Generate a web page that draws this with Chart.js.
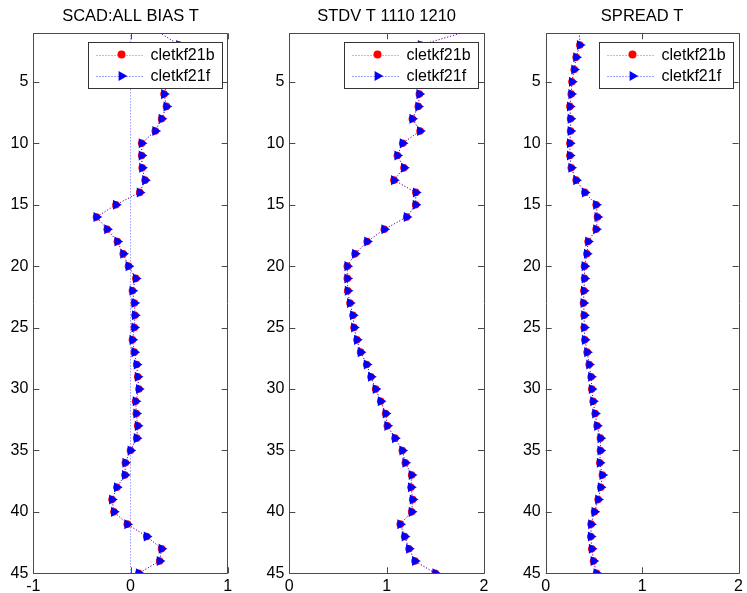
<!DOCTYPE html>
<html>
<head>
<meta charset="utf-8">
<script src="https://cdn.jsdelivr.net/npm/chart.js@4.4.1/dist/chart.umd.min.js"></script>
<style>
  html, body { margin: 0; padding: 0; background: #fff; }
  #wrap { position: relative; width: 747px; height: 593px; overflow: hidden; }
  #wrap canvas { position: absolute; top: 0; }
</style>
</head>
<body>
<div id="wrap">
  <canvas id="bias" width="249" height="593" style="left:0px"></canvas>
  <canvas id="stdv" width="250" height="593" style="left:250px"></canvas>
  <canvas id="spread" width="242" height="593" style="left:505px"></canvas>
</div>
<script>
// model levels (vertical axis, reversed)
const levels = [1, 2, 3, 4, 5, 6, 7, 8, 9, 10, 11, 12, 13, 14, 15, 16, 17, 18, 19, 20,
  21, 22, 23, 24, 25, 26, 27, 28, 29, 30, 31, 32, 33, 34, 35, 36, 37, 38, 39, 40,
  41, 42, 43, 44, 45];
const levelTicks = [5, 10, 15, 20, 25, 30, 35, 40, 45];
const seriesNames = ["cletkf21b", "cletkf21f"];

// SCAD:ALL BIAS T
const biasB = [0.30, 0.50, 0.46, 0.42, 0.38, 0.345, 0.37, 0.32, 0.255, 0.115,
  0.115, 0.12, 0.15, 0.095, -0.15, -0.35, -0.24, -0.135, -0.075, -0.02,
  0.055, 0.02, 0.04, 0.046, 0.04, 0.02, 0.04, 0.064, 0.074, 0.087,
  0.053, 0.06, 0.074, 0.064, 0.0, -0.053, -0.057, -0.14, -0.19, -0.17,
  -0.033, 0.167, 0.32, 0.30, 0.085];
const biasF = [0.30, 0.50, 0.46, 0.42, 0.38, 0.345, 0.37, 0.32, 0.255, 0.115,
  0.115, 0.12, 0.15, 0.095, -0.15, -0.35, -0.24, -0.135, -0.075, -0.02,
  0.055, 0.02, 0.04, 0.046, 0.04, 0.02, 0.04, 0.064, 0.074, 0.087,
  0.053, 0.06, 0.074, 0.064, 0.0, -0.053, -0.057, -0.14, -0.19, -0.17,
  -0.033, 0.167, 0.32, 0.30, 0.085];
const zeroLineX = [0, 0];
const zeroLineY = [0, 46];
const biasTicks = [-1, 0, 1];

// STDV T 1110 1210
const stdvB = [1.78, 1.35, 1.36, 1.36, 1.34, 1.336, 1.325, 1.264, 1.343, 1.165,
  1.11, 1.178, 1.075, 1.30, 1.298, 1.206, 0.976, 0.80, 0.675, 0.596,
  0.596, 0.60, 0.623, 0.654, 0.665, 0.695, 0.733, 0.795, 0.839, 0.887,
  0.939, 0.99, 1.007, 1.086, 1.161, 1.192, 1.257, 1.25, 1.268, 1.257,
  1.14, 1.185, 1.23, 1.291, 1.50];
const stdvF = [1.78, 1.35, 1.36, 1.36, 1.34, 1.336, 1.325, 1.264, 1.343, 1.165,
  1.11, 1.178, 1.075, 1.30, 1.298, 1.206, 0.976, 0.80, 0.675, 0.596,
  0.596, 0.60, 0.623, 0.654, 0.665, 0.695, 0.733, 0.795, 0.839, 0.887,
  0.939, 0.99, 1.007, 1.086, 1.161, 1.192, 1.257, 1.25, 1.268, 1.257,
  1.14, 1.185, 1.23, 1.291, 1.50];
const stdvTicks = [0, 1, 2];

// SPREAD T
const spreadB = [0.35, 0.354, 0.316, 0.296, 0.272, 0.265, 0.251, 0.258, 0.258, 0.251,
  0.251, 0.265, 0.316, 0.406, 0.523, 0.537, 0.523, 0.44, 0.427, 0.403,
  0.403, 0.396, 0.392, 0.399, 0.399, 0.406, 0.43, 0.451, 0.471, 0.478,
  0.492, 0.513, 0.533, 0.568, 0.568, 0.561, 0.588, 0.571, 0.544, 0.506,
  0.471, 0.468, 0.478, 0.496, 0.527];
const spreadF = [0.35, 0.354, 0.316, 0.296, 0.272, 0.265, 0.251, 0.258, 0.258, 0.251,
  0.251, 0.265, 0.316, 0.406, 0.523, 0.537, 0.523, 0.44, 0.427, 0.403,
  0.403, 0.396, 0.392, 0.399, 0.399, 0.406, 0.43, 0.451, 0.471, 0.478,
  0.492, 0.513, 0.533, 0.568, 0.568, 0.561, 0.588, 0.571, 0.544, 0.506,
  0.471, 0.468, 0.478, 0.496, 0.527];
const spreadTicks = [0, 1, 2];

const FONT = "Arial, 'Liberation Sans', Helvetica, sans-serif";
const Y_MIN = 1.05;
const Y_MAX = 45;

function toPoints(xs, ys) {
  return ys.map((y, i) => ({ x: xs[i], y }));
}

// hide markers whose level lies above the top of the axes (like matlab clipping)
function markerSize(r) {
  return (c) => (c.raw && c.raw.y < Y_MIN ? 0 : r);
}

// matlab style box with inward ticks on all four sides, title and legend
const boxPlugin = {
  id: "matlabBox",
  afterDatasetsDraw(chart, args, opts) {
    const { ctx, chartArea } = chart;
    const { left, right, top, bottom } = chartArea;
    const xs = chart.scales.x;
    const ys = chart.scales.y;
    const tl = 6;

    ctx.save();
    ctx.strokeStyle = "#4a4a4a";
    ctx.lineWidth = 1;
    ctx.beginPath();
    ctx.rect(Math.round(left) + 0.5, Math.round(top) + 0.5,
      Math.round(right - left), Math.round(bottom - top));
    xs.ticks.forEach((t) => {
      const px = Math.round(xs.getPixelForValue(t.value)) + 0.5;
      ctx.moveTo(px, bottom);
      ctx.lineTo(px, bottom - tl);
      ctx.moveTo(px, top);
      ctx.lineTo(px, top + tl);
    });
    ys.ticks.forEach((t) => {
      const py = Math.round(ys.getPixelForValue(t.value)) + 0.5;
      ctx.moveTo(left, py);
      ctx.lineTo(left + tl, py);
      ctx.moveTo(right, py);
      ctx.lineTo(right - tl, py);
    });
    ctx.stroke();

    // title centred over the axes
    ctx.fillStyle = "#000";
    ctx.font = "16.5px " + FONT;
    ctx.textAlign = "center";
    ctx.textBaseline = "middle";
    ctx.fillText(opts.title || "", (left + right) / 2, 16);

    // legend
    const entries = chart.data.datasets.filter((d) => d.label);
    const bw = 134, bh = 46;
    const bx = Math.round(right - 6 - bw) + 0.5;
    const by = Math.round(top + 9) + 0.5;
    ctx.fillStyle = "#ffffff";
    ctx.fillRect(bx, by, bw, bh);
    ctx.strokeStyle = "#333333";
    ctx.strokeRect(bx, by, bw, bh);
    ctx.font = "16px " + FONT;
    ctx.textBaseline = "middle";
    ctx.textAlign = "left";
    entries.forEach((d, i) => {
      const ry = by + 12 + i * 21.5;
      ctx.strokeStyle = d.borderColor;
      ctx.setLineDash([1, 2]);
      ctx.beginPath();
      ctx.moveTo(bx + 8, Math.round(ry) + 0.5);
      ctx.lineTo(bx + 56, Math.round(ry) + 0.5);
      ctx.stroke();
      ctx.setLineDash([]);
      const mx = bx + 33, my = ry;
      ctx.fillStyle = d.pointBackgroundColor;
      ctx.beginPath();
      if (d.pointStyle === "triangle") {
        const r = 5.8;
        ctx.moveTo(mx + r, my);
        ctx.lineTo(mx - r / 2, my - r * 0.866);
        ctx.lineTo(mx - r / 2, my + r * 0.866);
        ctx.closePath();
      } else {
        ctx.arc(mx, my, 4, 0, Math.PI * 2);
      }
      ctx.fill();
      ctx.fillStyle = "#000000";
      ctx.fillText(d.label, bx + 62, ry + 1);
    });
    ctx.restore();
  },
};

function makePanel(id, title, valsB, valsF, xTicks, yAxisWidth, rightPad, extra) {
  const seriesF = {
    label: seriesNames[1],
    data: toPoints(valsF, levels),
    borderColor: "rgba(0, 0, 255, 0.75)",
    borderWidth: 1,
    borderDash: [1, 2],
    pointStyle: "triangle",
    rotation: 90,
    pointRadius: markerSize(5.8),
    pointBackgroundColor: "#0000ff",
    pointBorderColor: "#0000ff",
    pointBorderWidth: 0,
    order: 0,
  };
  const seriesB = {
    label: seriesNames[0],
    data: toPoints(valsB, levels),
    borderColor: "rgba(255, 0, 0, 0.7)",
    borderWidth: 1,
    borderDash: [1, 2],
    pointStyle: "circle",
    pointRadius: markerSize(3.8),
    pointBackgroundColor: "#ff0000",
    pointBorderColor: "#ff0000",
    pointBorderWidth: 0,
    order: 1,
  };
  const datasets = [seriesB, seriesF];
  if (extra) datasets.push(extra);

  return new Chart(document.getElementById(id), {
    type: "scatter",
    data: { datasets },
    options: {
      responsive: false,
      animation: false,
      devicePixelRatio: 1,
      showLine: true,
      layout: { padding: { left: 0, right: rightPad, top: 33.3, bottom: 0 } },
      plugins: {
        legend: { display: false },
        tooltip: { enabled: false },
        title: { display: false },
        matlabBox: { title },
      },
      scales: {
        x: {
          type: "linear",
          min: xTicks[0],
          max: xTicks[xTicks.length - 1],
          grid: { display: false, drawTicks: false },
          border: { display: false },
          afterBuildTicks: (s) => { s.ticks = xTicks.map((v) => ({ value: v })); },
          afterFit: (s) => { s.height = 19.7; },
          ticks: { color: "#000", font: { family: FONT, size: 16 }, padding: 4, maxRotation: 0 },
        },
        y: {
          type: "linear",
          reverse: true,
          min: Y_MIN,
          max: Y_MAX,
          grid: { display: false, drawTicks: false },
          border: { display: false },
          afterBuildTicks: (s) => { s.ticks = levelTicks.map((v) => ({ value: v })); },
          afterFit: (s) => { s.width = yAxisWidth; },
          ticks: { color: "#000", font: { family: FONT, size: 16 }, padding: 5 },
        },
      },
    },
    plugins: [boxPlugin],
  });
}

const zeroLine = {
  data: toPoints(zeroLineX, zeroLineY),
  borderColor: "rgba(0, 0, 255, 0.6)",
  borderWidth: 1,
  borderDash: [1, 2],
  pointRadius: 0,
  order: 2,
};

makePanel("bias", "SCAD:ALL BIAS T", biasB, biasF, biasTicks, 33.3, 249 - 227.7, zeroLine);
makePanel("stdv", "STDV T 1110 1210", stdvB, stdvF, stdvTicks, 39.3, 250 - 234, null);
makePanel("spread", "SPREAD T", spreadB, spreadF, spreadTicks, 40.7, 242 - 234.3, null);
</script>
</body>
</html>
